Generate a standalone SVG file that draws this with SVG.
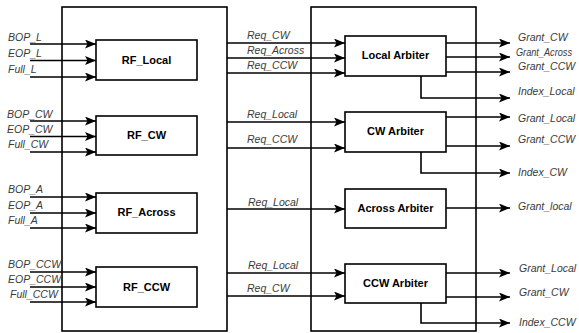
<svg xmlns="http://www.w3.org/2000/svg" width="579" height="333" viewBox="0 0 579 333">
<defs>
<marker id="ah" markerUnits="userSpaceOnUse" markerWidth="11" markerHeight="9" refX="11" refY="4.5" orient="auto">
<path d="M0,0 L11,4.5 L0,9 L2.5,4.5 z" fill="#000"/>
</marker>
<style>
.frame{fill:none;stroke:#000;stroke-width:1.6}
.box{fill:#fff;stroke:#000;stroke-width:1.6}
.w{fill:none;stroke:#000;stroke-width:1.6}
.a{fill:none;stroke:#000;stroke-width:1.6;marker-end:url(#ah)}
.lbl{font-family:"Liberation Sans",Arial,sans-serif;font-style:italic;font-size:10.5px;fill:#3a3a3a}
.bt{font-family:"Liberation Sans",Arial,sans-serif;font-weight:bold;font-size:11px;fill:#000;text-anchor:middle}
</style>
</defs>
<rect width="579" height="333" fill="#fff"/>
<g id="frames">
<rect class="frame" x="62" y="7" width="165" height="324"/>
<rect class="frame" x="311" y="7" width="165" height="324"/>
</g>
<g id="connectors">
<path class="a" d="M30,44 H96"/>
<path class="a" d="M30,60.5 H96"/>
<path class="a" d="M30,77 H96"/>
<path class="a" d="M30,121 H96"/>
<path class="a" d="M30,136.5 H96"/>
<path class="a" d="M30,152 H96"/>
<path class="a" d="M30,197 H96"/>
<path class="a" d="M30,213 H96"/>
<path class="a" d="M30,228 H96"/>
<path class="a" d="M30,272 H96"/>
<path class="a" d="M30,287 H96"/>
<path class="a" d="M30,302 H96"/>
<path class="a" d="M227,43 H345"/>
<path class="a" d="M227,58 H345"/>
<path class="a" d="M227,73 H345"/>
<path class="a" d="M227,122 H345"/>
<path class="a" d="M227,148 H345"/>
<path class="a" d="M227,209 H345"/>
<path class="a" d="M227,273 H345"/>
<path class="a" d="M227,296 H345"/>
<path class="a" d="M446,43 H510"/>
<path class="a" d="M446,57 H510"/>
<path class="a" d="M446,72 H510"/>
<path class="a" d="M421,76 V98 H510"/>
<path class="a" d="M446,117 H510"/>
<path class="a" d="M446,146 H510"/>
<path class="a" d="M421,152 V173 H510"/>
<path class="a" d="M446,208 H510"/>
<path class="a" d="M446,273 H510"/>
<path class="a" d="M446,297 H510"/>
<path class="a" d="M421,303 V323 H510"/>
</g>
<g id="rf_local">
<rect class="box" x="96" y="40" width="101" height="40"/>
<text class="bt" x="146.5" y="64">RF_Local</text>
</g>
<g id="rf_cw">
<rect class="box" x="96" y="116" width="101" height="39"/>
<text class="bt" x="146.5" y="139">RF_CW</text>
</g>
<g id="rf_across">
<rect class="box" x="96" y="193" width="101" height="40"/>
<text class="bt" x="146.5" y="216">RF_Across</text>
</g>
<g id="rf_ccw">
<rect class="box" x="96" y="267" width="101" height="40"/>
<text class="bt" x="146.5" y="291">RF_CCW</text>
</g>
<g id="local_arbiter">
<rect class="box" x="345" y="36" width="101" height="40"/>
<text class="bt" x="395.5" y="59">Local Arbiter</text>
</g>
<g id="cw_arbiter">
<rect class="box" x="345" y="112" width="101" height="40"/>
<text class="bt" x="395.5" y="135">CW Arbiter</text>
</g>
<g id="across_arbiter">
<rect class="box" x="345" y="189" width="101" height="39"/>
<text class="bt" x="395.5" y="212">Across Arbiter</text>
</g>
<g id="ccw_arbiter">
<rect class="box" x="345" y="264" width="101" height="39"/>
<text class="bt" x="395.5" y="287">CCW Arbiter</text>
</g>
<g id="labels">
<text class="lbl" x="8" y="41">BOP_L</text>
<text class="lbl" x="8" y="57">EOP_L</text>
<text class="lbl" x="8" y="73">Full_L</text>
<text class="lbl" x="7" y="118">BOP_CW</text>
<text class="lbl" x="7" y="133">EOP_CW</text>
<text class="lbl" x="8" y="148">Full_CW</text>
<text class="lbl" x="8" y="193">BOP_A</text>
<text class="lbl" x="8" y="209">EOP_A</text>
<text class="lbl" x="8" y="224">Full_A</text>
<text class="lbl" x="8" y="268">BOP_CCW</text>
<text class="lbl" x="8" y="283">EOP_CCW</text>
<text class="lbl" x="10" y="298">Full_CCW</text>
<text class="lbl" x="247" y="39">Req_CW</text>
<text class="lbl" x="247" y="54">Req_Across</text>
<text class="lbl" x="247" y="69">Req_CCW</text>
<text class="lbl" x="247" y="118">Req_Local</text>
<text class="lbl" x="247" y="143">Req_CCW</text>
<text class="lbl" x="248" y="206">Req_Local</text>
<text class="lbl" x="248" y="269">Req_Local</text>
<text class="lbl" x="247" y="292">Req_CW</text>
<text class="lbl" x="518" y="41">Grant_CW</text>
<text class="lbl" x="516" y="56" font-size="9.4" textLength="56" lengthAdjust="spacingAndGlyphs">Grant_Across</text>
<text class="lbl" x="518" y="70">Grant_CCW</text>
<text class="lbl" x="518" y="95">Index_Local</text>
<text class="lbl" x="518" y="122">Grant_Local</text>
<text class="lbl" x="518" y="143">Grant_CCW</text>
<text class="lbl" x="518" y="176">Index_CW</text>
<text class="lbl" x="518" y="210">Grant_local</text>
<text class="lbl" x="519" y="272">Grant_Local</text>
<text class="lbl" x="519" y="296">Grant_CW</text>
<text class="lbl" x="519" y="326">Index_CCW</text>
</g>
</svg>
